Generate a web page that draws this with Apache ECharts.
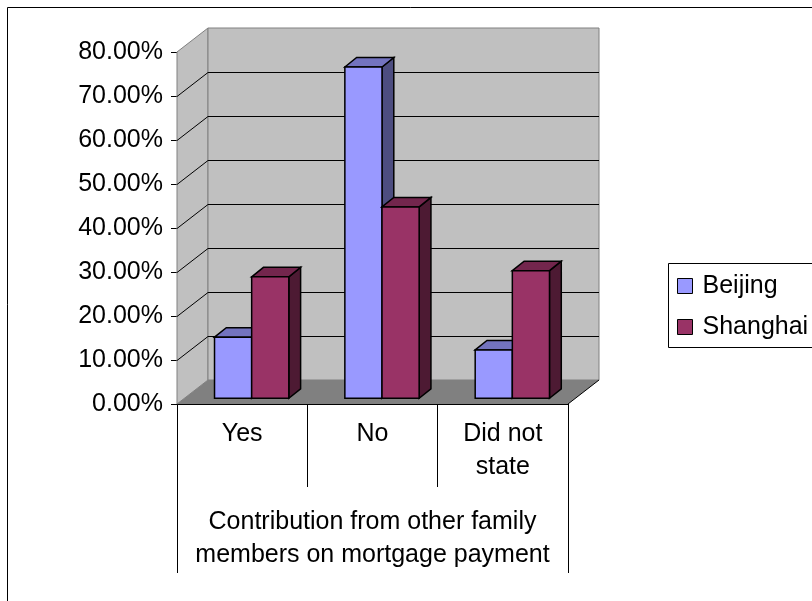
<!DOCTYPE html>
<html><head><meta charset="utf-8">
<script src="https://cdn.jsdelivr.net/npm/echarts@6/dist/echarts.min.js"></script>
<style>html,body{margin:0;padding:0;background:#fff}#chart{width:812px;height:601px}</style>
</head><body><div id="chart"></div>
<script>
// Survey answers: share of respondents per city (percent)
const categories = ['Yes', 'No', 'Did not\nstate'];
const beijing = [13.9, 75.3, 11.0];
const shanghai = [27.6, 43.5, 29.0];
const yTicks = [0, 10, 20, 30, 40, 50, 60, 70, 80];
const seriesNames = ['Beijing', 'Shanghai'];
const axisTitle = 'Contribution from other family\nmembers on mortgage payment';

const FONT = '"Liberation Sans", Arial, sans-serif';
const FS = 25;
const DEPTH = [31, -24];        // depth of walls and floor
const BAR_SHIFT = [9.5, -5.7];  // bar front faces sit slightly behind the axis plane
const BAR_DEPTH = [11.8, -9.5]; // bar thickness
const BAR_FRAC = 0.285;         // bar width as share of a category band

const palette = {
  Beijing:  { front: '#9999ff', top: '#7373bf', side: '#4d4d80' },
  Shanghai: { front: '#993366', top: '#73264d', side: '#4d1a33' }
};

function poly(points, fill, stroke, lw) {
  return { type: 'polygon', shape: { points: points }, style: { fill: fill, stroke: stroke, lineWidth: lw } };
}

// Walls, floor and gridlines of the 3-D box
function renderWalls(params, api) {
  const cs = params.coordSys;
  const x0 = cs.x, x1 = cs.x + cs.width;
  const yTop = api.coord([0, yTicks[yTicks.length - 1]])[1];
  const yBot = api.coord([0, yTicks[0]])[1];
  const dx = DEPTH[0], dy = DEPTH[1];
  const kids = [];
  kids.push(poly([[x0, yTop], [x0 + dx, yTop + dy], [x0 + dx, yBot + dy], [x0, yBot]], '#c0c0c0', '#808080', 1));
  kids.push(poly([[x0 + dx, yTop + dy], [x1 + dx, yTop + dy], [x1 + dx, yBot + dy], [x0 + dx, yBot + dy]], '#c0c0c0', '#808080', 1));
  kids.push(poly([[x0, yBot], [x0 + dx, yBot + dy], [x1 + dx, yBot + dy], [x1, yBot]], '#808080', null, 0));
  kids.push({ type: 'line', shape: { x1: x1, y1: yBot, x2: x1 + dx, y2: yBot + dy }, style: { stroke: '#000', lineWidth: 1 } });
  yTicks.slice(1, -1).forEach(function (v) {
    const y = Math.round(api.coord([0, v])[1]) + 0.5;
    kids.push({ type: 'polyline', shape: { points: [[x0, y], [x0 + dx, y + dy], [x1 + dx, y + dy]] },
      style: { stroke: '#000', lineWidth: 1, fill: null } });
  });
  return { type: 'group', children: kids };
}

function makeBarRenderer(name, sideIdx) {
  const c = palette[name];
  return function (params, api) {
    const cat = api.value(0), v = api.value(1);
    const base = api.coord([cat, 0]);
    const top = api.coord([cat, v]);
    const band = api.size([1, 0])[0];
    const w = band * BAR_FRAC;
    const xl = base[0] + BAR_SHIFT[0] + (sideIdx === 0 ? -w : 0);
    const xr = xl + w;
    const yb = base[1] + BAR_SHIFT[1];
    const yt = top[1] + BAR_SHIFT[1];
    const ddx = BAR_DEPTH[0], ddy = BAR_DEPTH[1];
    return { type: 'group', children: [
      poly([[xr, yt], [xr + ddx, yt + ddy], [xr + ddx, yb + ddy], [xr, yb]], c.side, '#000', 1.5),
      poly([[xl, yt], [xl + ddx, yt + ddy], [xr + ddx, yt + ddy], [xr, yt]], c.top, '#000', 1.5),
      { type: 'rect', shape: { x: xl, y: yt, width: w, height: yb - yt }, style: { fill: c.front, stroke: '#000', lineWidth: 1.5 } }
    ] };
  };
}

const chart = echarts.init(document.getElementById('chart'));
const txt = { fontFamily: FONT, fontSize: FS, color: '#000' };

chart.setOption({
  animation: false,
  backgroundColor: '#fff',
  textStyle: { fontFamily: FONT },
  graphic: [
    // outer chart frame
    { type: 'rect', shape: { x: 7.5, y: 7.5, width: 900, height: 900 }, style: { fill: null, stroke: '#000', lineWidth: 1 }, silent: true },
    // legend frame, running past the right edge of the page
    { type: 'rect', shape: { x: 668.5, y: 263.5, width: 200, height: 84 }, style: { fill: null, stroke: '#000', lineWidth: 1 }, silent: true }
  ],
  legend: {
    orient: 'vertical', left: 668, top: 263,
    padding: [9, 0, 6, 9], itemGap: 13,
    itemWidth: 15, itemHeight: 15, icon: 'rect',
    borderWidth: 0,
    textStyle: Object.assign({}, txt, { lineHeight: 28, padding: [0, 0, 0, 5] }),
    data: seriesNames.map(function (n) {
      return { name: n, itemStyle: { color: palette[n].front, borderColor: '#000', borderWidth: 1 } };
    })
  },
  grid: { left: 177, right: 244, top: 52, bottom: 197 },
  xAxis: [{
    type: 'category', data: categories, boundaryGap: true,
    axisLine: { show: true, lineStyle: { color: '#000', width: 1 } },
    axisTick: { show: true, length: 83, interval: 0, lineStyle: { color: '#000' } },
    axisLabel: Object.assign({}, txt, { lineHeight: 33, margin: 14, interval: 0 }),
    splitLine: { show: false },
    name: axisTitle, nameLocation: 'middle', nameGap: 102,
    nameTextStyle: Object.assign({}, txt, { lineHeight: 33 })
  }, {
    type: 'category', data: [''], position: 'bottom', gridIndex: 0,
    axisLine: { show: false },
    axisTick: { show: true, length: 169, lineStyle: { color: '#000' } },
    axisLabel: { show: false }, splitLine: { show: false }
  }],
  yAxis: {
    type: 'value', min: 0, max: 80, interval: 10,
    axisLine: { show: true, lineStyle: { color: '#000', width: 1 } },
    axisTick: { show: true, length: 6, lineStyle: { color: '#000' } },
    axisLabel: Object.assign({}, txt, { margin: 14, formatter: function (v) { return v.toFixed(2) + '%'; } }),
    splitLine: { show: false }
  },
  series: [{
    type: 'custom', name: 'walls', silent: true, clip: false, z: 1,
    renderItem: renderWalls, data: [[0, 0]], encode: { x: 0, y: 1 }
  }, {
    type: 'custom', name: 'Beijing', clip: false, z: 2,
    itemStyle: { color: palette.Beijing.front },
    renderItem: makeBarRenderer('Beijing', 0),
    data: beijing.map(function (v, i) { return [i, v]; }), encode: { x: 0, y: 1 }
  }, {
    type: 'custom', name: 'Shanghai', clip: false, z: 3,
    itemStyle: { color: palette.Shanghai.front },
    renderItem: makeBarRenderer('Shanghai', 1),
    data: shanghai.map(function (v, i) { return [i, v]; }), encode: { x: 0, y: 1 }
  }]
});
</script></body></html>
